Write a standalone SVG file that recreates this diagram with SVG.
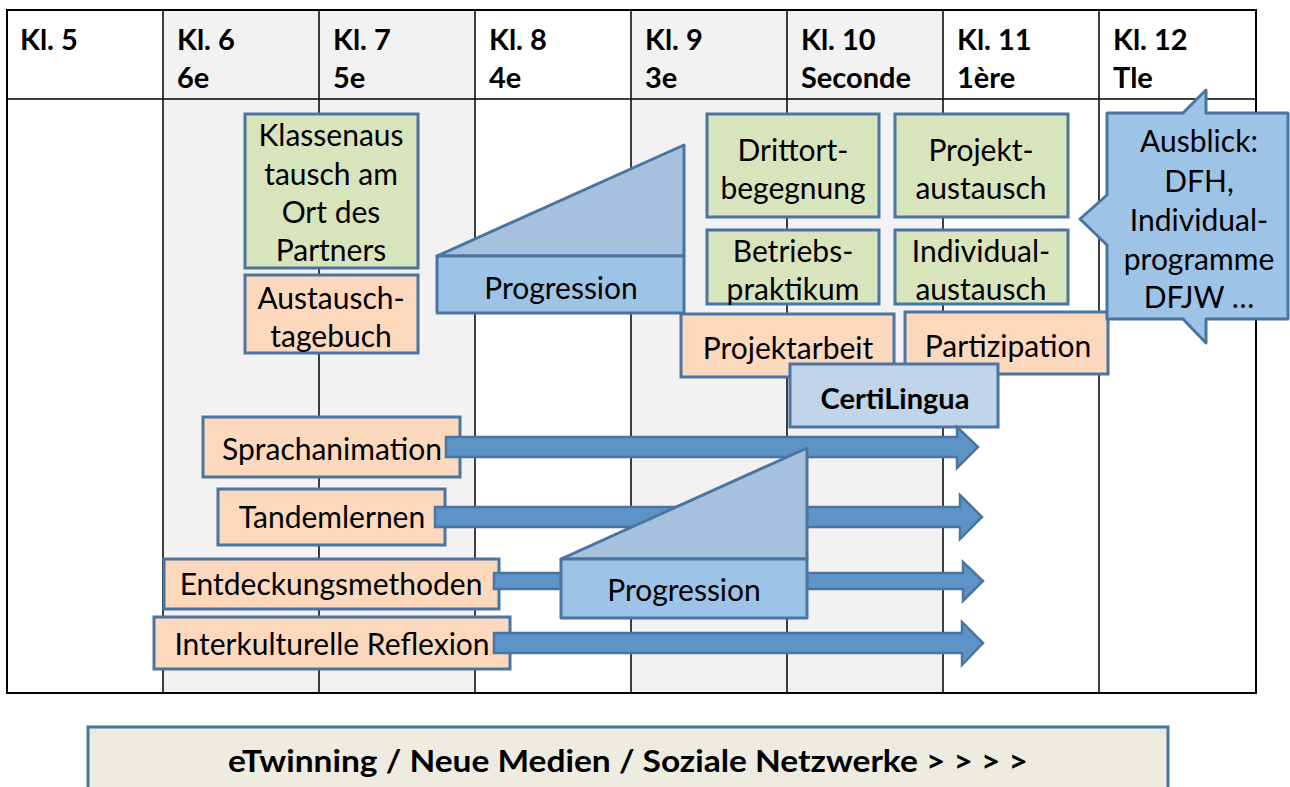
<svg xmlns="http://www.w3.org/2000/svg" width="1290" height="787" viewBox="0 0 1290 787">
<style>
.hd{font-family:Lato,"Liberation Sans",sans-serif;font-weight:bold;font-size:29px;fill:#000}
.t{font-family:Lato,"Liberation Sans",sans-serif;font-size:30px;fill:#000;text-anchor:middle}
.tb{font-family:Lato,"Liberation Sans",sans-serif;font-weight:bold;font-size:29px;fill:#000;text-anchor:middle}
.grn{fill:#d8e4bc;stroke:#4a74a2;stroke-width:3}
.org{fill:#fcd9bd;stroke:#4a74a2;stroke-width:3}
.lb{fill:#c0d5e9;stroke:#4a74a2;stroke-width:3}
.prg{fill:#9dc3e6;stroke:#4a74a2;stroke-width:3;stroke-linejoin:round}
.tri{fill:#a5c1de;stroke:#4a74a2;stroke-width:3;stroke-linejoin:round}
.arr{fill:#5d94c8;stroke:#4a74a2;stroke-width:2.5;stroke-linejoin:miter}
.grid{stroke:#000;stroke-width:1.5}
</style>
<rect x="0" y="0" width="1290" height="787" fill="#fff"/>
<g id="table">
<rect x="163" y="10" width="312" height="683" fill="#f2f2f2"/>
<rect x="631" y="10" width="312" height="683" fill="#f2f2f2"/>
<g class="grid">
<line x1="163" y1="10" x2="163" y2="693"/>
<line x1="319" y1="10" x2="319" y2="693"/>
<line x1="475" y1="10" x2="475" y2="693"/>
<line x1="631" y1="10" x2="631" y2="693"/>
<line x1="787" y1="10" x2="787" y2="693"/>
<line x1="943" y1="10" x2="943" y2="693"/>
<line x1="1099" y1="10" x2="1099" y2="693"/>
<line x1="7" y1="99" x2="1256" y2="99"/>
</g>
<rect x="7" y="10" width="1249" height="683" fill="none" stroke="#000" stroke-width="2"/>
<text class="hd" x="20" y="50">Kl. 5</text>
<text class="hd" x="177" y="50">Kl. 6</text><text class="hd" x="177" y="88">6e</text>
<text class="hd" x="333" y="50">Kl. 7</text><text class="hd" x="333" y="88">5e</text>
<text class="hd" x="489" y="50">Kl. 8</text><text class="hd" x="489" y="88">4e</text>
<text class="hd" x="645" y="50">Kl. 9</text><text class="hd" x="645" y="88">3e</text>
<text class="hd" x="801" y="50">Kl. 10</text><text class="hd" x="801" y="88">Seconde</text>
<text class="hd" x="957" y="50">Kl. 11</text><text class="hd" x="957" y="88">1ère</text>
<text class="hd" x="1113" y="50">Kl. 12</text><text class="hd" x="1113" y="88">Tle</text>
</g>
<g id="klassenaustausch">
<rect class="grn" x="245" y="114" width="173" height="154"/>
<text class="t" x="331" y="146">Klassenaus</text>
<text class="t" x="331" y="185">tausch am</text>
<text class="t" x="331" y="223">Ort des</text>
<text class="t" x="331" y="261">Partners</text>
</g>
<g id="tagebuch">
<rect class="org" x="245" y="275" width="173" height="78"/>
<text class="t" x="331" y="309">Austausch-</text>
<text class="t" x="331" y="347">tagebuch</text>
</g>
<g id="progression1">
<path class="tri" d="M437,256 L684,145 L684,256 Z"/>
<rect class="prg" x="437" y="256" width="247" height="57"/>
<text class="t" x="561" y="299">Progression</text>
</g>
<g id="drittort">
<rect class="grn" x="707" y="114" width="172" height="103"/>
<text class="t" x="793" y="161">Drittort-</text>
<text class="t" x="793" y="199">begegnung</text>
</g>
<g id="projektaustausch">
<rect class="grn" x="895" y="114" width="173" height="103"/>
<text class="t" x="981" y="161">Projekt-</text>
<text class="t" x="981" y="199">austausch</text>
</g>
<g id="betriebspraktikum">
<rect class="grn" x="707" y="230" width="172" height="74"/>
<text class="t" x="793" y="262">Betriebs-</text>
<text class="t" x="793" y="300">praktikum</text>
</g>
<g id="individualaustausch">
<rect class="grn" x="895" y="230" width="173" height="74"/>
<text class="t" x="981" y="262">Individual-</text>
<text class="t" x="981" y="300">austausch</text>
</g>
<g id="projektarbeit">
<rect class="org" x="681" y="314" width="213" height="63"/>
<text class="t" x="788" y="359">Projektarbeit</text>
</g>
<g id="partizipation">
<rect class="org" x="905" y="312" width="203" height="62"/>
<text class="t" x="1008" y="357">Partizipation</text>
</g>
<g id="certilingua">
<rect class="lb" x="790" y="364" width="208" height="63"/>
<text class="tb" x="895" y="409">CertiLingua</text>
</g>
<g id="ausblick">
<path class="prg" d="M1107,113 L1183,113 L1206,90 L1206,113 L1288,113 L1288,319 L1206,319 L1206,343 L1183,319 L1107,319 L1107,245 L1080,219 L1107,195 Z"/>
<text class="t" x="1199" y="152">Ausblick:</text>
<text class="t" x="1199" y="192">DFH,</text>
<text class="t" x="1199" y="231">Individual-</text>
<text class="t" x="1199" y="270">programme</text>
<text class="t" x="1199" y="308">DFJW …</text>
</g>
<g id="sprachanimation">
<rect class="org" x="203" y="417" width="257" height="60"/>
<text class="t" x="332" y="460">Sprachanimation</text>
</g>
<g id="tandemlernen">
<rect class="org" x="218" y="489" width="227" height="56"/>
<text class="t" x="332" y="528">Tandemlernen</text>
</g>
<g id="entdeckungsmethoden">
<rect class="org" x="164" y="559" width="335" height="50"/>
<text class="t" x="331" y="595">Entdeckungsmethoden</text>
</g>
<g id="interkulturelle">
<rect class="org" x="154" y="617" width="356" height="52"/>
<text class="t" x="332" y="655">Interkulturelle Reflexion</text>
</g>
<g id="connectors">
<path class="arr" d="M446,437 L957,437 L957,427 L978,447 L957,468 L957,457 L446,457 Z"/>
<path class="arr" d="M435,507 L960,507 L960,495 L982,517 L960,539 L960,527 L435,527 Z"/>
<path class="arr" d="M494,573 L963,573 L963,562 L983,581 L963,601 L963,589 L494,589 Z"/>
<path class="arr" d="M494,633 L962,633 L962,622 L983,643 L962,665 L962,653 L494,653 Z"/>
</g>
<g id="progression2">
<path class="tri" d="M561,559 L807,448 L807,559 Z"/>
<rect class="prg" x="561" y="559" width="246" height="59"/>
<text class="t" x="684" y="601">Progression</text>
</g>
<g id="etwinning">
<rect x="88" y="727" width="1080" height="70" fill="#eeece1" stroke="#4a74a2" stroke-width="3"/>
<text class="tb" x="628" y="772" style="font-size:31px" textLength="800" lengthAdjust="spacingAndGlyphs">eTwinning / Neue Medien / Soziale Netzwerke  &gt; &gt; &gt; &gt;</text>
</g>
</svg>
